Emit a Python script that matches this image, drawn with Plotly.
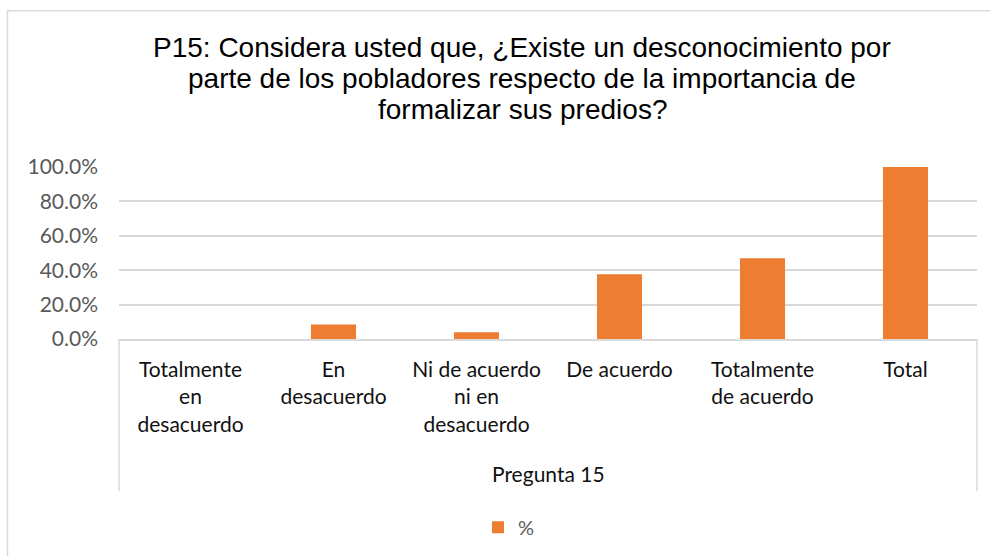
import plotly.graph_objects as go

categories = ["Totalmente en desacuerdo", "En desacuerdo", "Ni de acuerdo ni en desacuerdo",
              "De acuerdo", "Totalmente de acuerdo", "Total"]
tick_labels = ["Totalmente<br>en<br>desacuerdo", "En<br>desacuerdo", "Ni de acuerdo<br>ni en<br>desacuerdo",
               "De acuerdo", "Totalmente<br>de acuerdo", "Total"]
values = [0.0, 8.5, 3.9, 37.6, 46.9, 100.0]
y_ticks = [0, 20, 40, 60, 80, 100]
series_name = "%"
group_label = "Pregunta 15"
title_lines = ["P15: Considera usted que, ¿Existe un desconocimiento por",
               "parte de los pobladores respecto de la importancia de",
               "formalizar sus predios?"]

W, H = 990, 556
L, R, T, B = 119, 977, 166.7, 338.7
pw, ph = R - L, B - T

def px(x):
    return (x - L) / pw

def py(y):
    return (B - y) / ph

fig = go.Figure()
fig.add_trace(go.Bar(x=categories, y=values, name=series_name,
                     marker=dict(color="#ED7D31", line=dict(width=0))))

grid = "#d9d9d9"
fig.update_layout(
    width=W, height=H,
    margin=dict(l=L, r=W - R, t=T, b=H - B, autoexpand=False),
    paper_bgcolor="white", plot_bgcolor="white",
    bargap=0.685,
    showlegend=True,
    legend=dict(orientation="h", x=px(509), xanchor="center", y=py(527), yanchor="middle",
                font=dict(family="Lato", size=20, color="#595959"), itemwidth=30),
    xaxis=dict(
        tickmode="array", tickvals=categories, ticktext=tick_labels,
        showline=True, linecolor=grid, linewidth=1.5,
        ticks="outside", ticklen=11, tickcolor="rgba(0,0,0,0)",
        tickfont=dict(family="Lato", size=21, color="#111111"),
        showgrid=False, fixedrange=True,
    ),
    yaxis=dict(
        range=[0, 100], tickvals=y_ticks, ticktext=[f"{v:.1f}%" for v in y_ticks],
        tickmode="array",
        showgrid=True, gridcolor=grid, gridwidth=1.5, zeroline=False,
        ticks="", ticklabelstandoff=20,
        tickfont=dict(family="Lato", size=21, color="#595959"),
        fixedrange=True,
    ),
)

# title lines
for line, yy in zip(title_lines, [47, 78, 109]):
    fig.add_annotation(text=line, x=px(522), y=py(yy), xref="paper", yref="paper",
                       xanchor="center", yanchor="middle", showarrow=False,
                       font=dict(family="Liberation Sans", size=28, color="#000000"))

# group label
fig.add_annotation(text=group_label, x=px(548.5), y=py(473), xref="paper", yref="paper",
                   xanchor="center", yanchor="middle", showarrow=False,
                   font=dict(family="Lato", size=21, color="#111111"))

# category-axis group box sides
for xx in [L, R]:
    fig.add_shape(type="line", xref="paper", yref="paper", x0=px(xx), x1=px(xx),
                  y0=py(338.7), y1=py(491), line=dict(color=grid, width=1.5))

# chart outer border (extends beyond visible area)
fig.add_shape(type="rect", xref="paper", yref="paper", x0=px(7.5), x1=px(1100),
              y0=py(700), y1=py(10.5), line=dict(color=grid, width=1.5), fillcolor="rgba(0,0,0,0)",
              layer="below")

fig.write_html("out.html", config={"displayModeBar": False},
               post_script="document.body.style.margin='0';document.body.style.overflow='hidden';")
